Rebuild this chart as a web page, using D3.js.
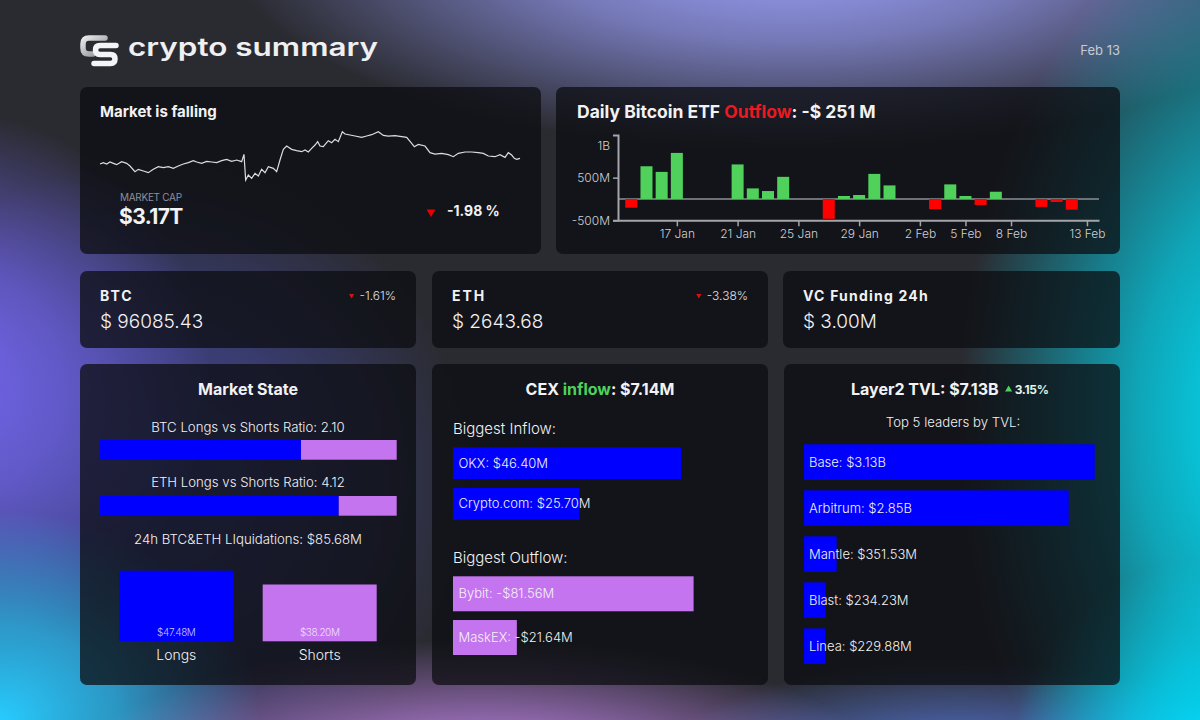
<!DOCTYPE html>
<html><head><meta charset="utf-8">
<script src="https://cdn.jsdelivr.net/npm/d3@7"></script>
<style>
html,body{margin:0;padding:0;background:#2a2b31;}
svg{display:block;font-family:Inter,"Noto Sans",sans-serif;}
</style></head><body>
<svg id="c" width="1200" height="720"></svg>
<script>
// ---------------- DATA ----------------
const headerTitle = "crypto summary";
const dateLabel = "Feb 13";

// market cap sparkline (time index, relative cap level)
const sparkT = [15,25,35,45,55,65,80,95,105,120,130,145,160,175,190,205,220,235,250,265,280,295,305,320,335,350,365,380,395,410,425,440,447,452,460,470,480,490,500,510,520,535,545,555,565,575,590,605,620,630,640,650,660,668,675,685,695,700,710,720,730,742,750,765,780,800,815,830,850,865,880,900,920,935,950,958,970,990,1005,1020,1040,1060,1075,1090,1110,1130,1150,1165,1180,1200,1215,1230,1240,1250,1258,1265,1275];
const sparkV = [68,72,68,74,70,66,75,70,62,45,52,47,42,52,60,57,60,55,62,68,72,78,74,70,76,74,72,78,82,76,80,75,97,20,35,25,40,32,52,42,60,55,45,80,112,122,112,108,105,110,104,115,125,135,122,120,132,138,132,142,135,165,158,155,152,148,152,156,165,154,152,153,150,148,130,120,127,122,102,98,100,96,90,100,104,104,102,100,92,90,96,88,102,95,85,82,85];
const marketCapLabel = "MARKET CAP";
const marketCap = "$3.17T";
const marketChange = "-1.98 %";

// Daily Bitcoin ETF flows (millions USD)
const etfDates = ["2025-01-14","2025-01-15","2025-01-16","2025-01-17","2025-01-21","2025-01-22","2025-01-23","2025-01-24","2025-01-27","2025-01-28","2025-01-29","2025-01-30","2025-01-31","2025-02-03","2025-02-04","2025-02-05","2025-02-06","2025-02-07","2025-02-10","2025-02-11","2025-02-12"];
const etfFlows = [-205,767,635,1080,810,248,186,519,-465,70,93,588,318,-240,342,70,-140,170,-186,-70,-251];
const etfTickDates = ["2025-01-17","2025-01-21","2025-01-25","2025-01-29","2025-02-02","2025-02-05","2025-02-08","2025-02-13"];
const etfYTicks = [-500,500,1000];
const etfLatest = "-$ 251 M";

// tickers
const tickerNames = ["BTC","ETH","VC Funding 24h"];
const tickerValues = ["$ 96085.43","$ 2643.68","$ 3.00M"];
const tickerChanges = ["-1.61%","-3.38%",null];

// market state
const ratioLabels = ["BTC","ETH"];
const ratioValues = [2.10, 4.12];
const liqCategories = ["Longs","Shorts"];
const liqValues = [47.48, 38.20];

// CEX flows (millions USD)
const cexNet = "$7.14M";
const inflowNames = ["OKX","Crypto.com"];
const inflowValues = [46.40, 25.70];
const outflowNames = ["Bybit","MaskEX"];
const outflowValues = [81.56, 21.64];

// Layer2 TVL (billions USD)
const l2Total = "$7.13B";
const l2Change = "3.15%";
const l2Names = ["Base","Arbitrum","Mantle","Blast","Linea"];
const l2Values = [3.13, 2.85, 0.35153, 0.23423, 0.22988];

// ---------------- DRAW ----------------
const svg = d3.select("#c");
const defs = svg.append("defs");
const WHITE = "#f2f2f4", BLUE = "#0000ff", PURPLE = "#c574ef", GREEN = "#4fd15c", RED = "#ff0000";

// background
svg.append("rect").attr("width",1200).attr("height",720).attr("fill","#2a2b31");
const blobs = [
  {cx:150,cy:480,rx:320,ry:320,c:"#4a50b8",o:0.75},
  {cx:790,cy:-50,rx:560,ry:200,c:"#9ea3ff",o:1},
  {cx:1280,cy:420,rx:320,ry:520,c:"#00e6ff",o:1},
  {cx:-60,cy:380,rx:270,ry:270,c:"#7668f4",o:1},
  {cx:0,cy:720,rx:260,ry:210,c:"#28cbff",o:1},
  {cx:480,cy:800,rx:430,ry:160,c:"#d490ff",o:1},
  {cx:960,cy:795,rx:330,ry:135,c:"#5f86f6",o:0.95},
  {cx:1210,cy:760,rx:200,ry:200,c:"#00e0ff",o:1}
];
blobs.forEach((b,i)=>{
  const g = defs.append("radialGradient").attr("id","bg"+i);
  g.append("stop").attr("offset","0%").attr("stop-color",b.c).attr("stop-opacity",b.o);
  g.append("stop").attr("offset","45%").attr("stop-color",b.c).attr("stop-opacity",b.o*0.65);
  g.append("stop").attr("offset","100%").attr("stop-color",b.c).attr("stop-opacity",0);
  svg.append("ellipse").attr("cx",b.cx).attr("cy",b.cy).attr("rx",b.rx).attr("ry",b.ry).attr("fill",`url(#bg${i})`);
});

// panels
const panels = [[80,87,461,167],[556,87,564,167],[80,271,336,77],[432,271,336,77],[783,271,337,77],[80,364,336,321],[432,364,336,321],[784,364,336,321]];
svg.append("g").selectAll("rect").data(panels).join("rect")
  .attr("x",d=>d[0]).attr("y",d=>d[1]).attr("width",d=>d[2]).attr("height",d=>d[3])
  .attr("rx",7).attr("fill","rgba(12,13,18,0.75)");

// header logo
const logo = svg.append("g");
const lg = defs.append("linearGradient").attr("id","lgC").attr("x1","0").attr("y1","0").attr("x2","1").attr("y2","1");
lg.append("stop").attr("offset","0%").attr("stop-color","#e8e8ea");
lg.append("stop").attr("offset","100%").attr("stop-color","#8d8d92");
logo.append("path").attr("d","M105,38 H89 Q83,38 83,44 V48 Q83,54 89,54 H93")
  .attr("fill","none").attr("stroke","url(#lgC)").attr("stroke-width",5.5).attr("stroke-linecap","round");
logo.append("path").attr("d","M116,45.5 H100 Q95.5,45.5 95.5,50 Q95.5,54.5 100,54.5 H110.5 Q115,54.5 115,59 Q115,63.5 110.5,63.5 H94")
  .attr("fill","none").attr("stroke","#f4f4f6").attr("stroke-width",5.5).attr("stroke-linecap","round");
svg.append("text").attr("x",128).attr("y",56).attr("font-size",25).attr("font-weight",600)
  .attr("textLength",250).attr("lengthAdjust","spacingAndGlyphs").attr("fill","#f0f0f2").text(headerTitle);
svg.append("text").attr("x",1120).attr("y",55).attr("text-anchor","end").attr("font-size",13)
  .attr("fill","#c9cad2").text(dateLabel);

// ---- Panel A: market ----
svg.append("text").attr("x",100).attr("y",117).attr("font-size",15).attr("font-weight",700).attr("fill",WHITE).text("Market is falling");
const sx = d3.scaleLinear().domain(d3.extent(sparkT)).range([100,520]);
const sy = d3.scaleLinear().domain([20,165]).range([180,131.7]);
svg.append("path").datum(d3.range(sparkT.length))
  .attr("d", d3.line().x(i=>sx(sparkT[i])).y(i=>sy(sparkV[i])))
  .attr("fill","none").attr("stroke","#dcdce0").attr("stroke-width",1.2);
svg.append("text").attr("x",120).attr("y",201).attr("font-size",10).attr("letter-spacing",-0.3).attr("fill","#8e8f99").text(marketCapLabel);
svg.append("text").attr("x",119).attr("y",224).attr("font-size",21).attr("font-weight",700).attr("letter-spacing",-0.6).attr("fill",WHITE).text(marketCap);
svg.append("path").attr("d",d3.symbol(d3.symbolTriangle,34)()).attr("transform","translate(431,212) rotate(180)").attr("fill","#e60000");
svg.append("text").attr("x",447).attr("y",216).attr("font-size",14).attr("font-weight",700).attr("fill",WHITE).text(marketChange);

// ---- Panel B: ETF ----
const tB = svg.append("text").attr("x",577).attr("y",118).attr("font-size",17.5).attr("font-weight",700).attr("fill",WHITE);
tB.append("tspan").text("Daily Bitcoin ETF ");
tB.append("tspan").attr("fill","#ea1a22").text("Outflow");
tB.append("tspan").text(": " + etfLatest);

const parse = d3.timeParse("%Y-%m-%d");
const ex = d3.scaleTime().domain([new Date(2025,0,13,3), new Date(2025,1,13,19)]).range([618,1099]);
const ey = d3.scaleLinear().domain([-500,1500]).range([220.3,135]);
const etf = etfDates.map((d,i)=>({date:parse(d), v:etfFlows[i]}));
svg.append("line").attr("x1",618).attr("x2",1099).attr("y1",ey(0)).attr("y2",ey(0)).attr("stroke","#8d8f94").attr("stroke-width",1.5);
svg.append("g").selectAll("rect").data(etf).join("rect")
  .attr("x",d=>ex(d.date)-6).attr("width",12)
  .attr("y",d=>Math.min(ey(d.v),ey(0))).attr("height",d=>Math.abs(ey(d.v)-ey(0)))
  .attr("fill",d=>d.v>=0?GREEN:RED);
const fmtM = d => Math.abs(d)>=1000 ? (d/1000)+"B" : d+"M";
const yAx = svg.append("g").attr("transform","translate(618,0)")
  .call(d3.axisLeft(ey).tickValues(etfYTicks).tickFormat(fmtM).tickSize(5).tickSizeOuter(5).tickPadding(3));
const xAx = svg.append("g").attr("transform","translate(0,220.3)")
  .call(d3.axisBottom(ex).tickValues(etfTickDates.map(parse)).tickFormat(d3.timeFormat("%-d %b")).tickSize(6).tickSizeOuter(0).tickPadding(3));
[yAx,xAx].forEach(a=>{
  a.select(".domain").attr("stroke","#a3a5aa").attr("stroke-width",2);
  a.selectAll(".tick line").attr("stroke","#a3a5aa").attr("stroke-width",1.5);
  a.selectAll(".tick text").attr("fill","#d0d0d4").attr("font-size",12).attr("font-family","Inter,sans-serif").attr("font-weight",300);
});
yAx.selectAll(".tick").filter(d=>d===1000).each(function(){
  d3.select(this).select("line").remove();
  d3.select(this).select("text").attr("y",-11);
});

// ---- Row 2: tickers ----
const tickerX = [80,432,783], tickerR = [416,768,1120];
tickerNames.forEach((n,i)=>{
  svg.append("text").attr("x",tickerX[i]+20).attr("y",301).attr("font-size",14).attr("font-weight",700)
    .attr("letter-spacing", i<2?2:1.2).attr("fill",WHITE).text(n);
  svg.append("text").attr("x",tickerX[i]+20).attr("y",328).attr("font-size",19).attr("font-weight",300)
    .attr("fill",WHITE).text(tickerValues[i]);
  if(tickerChanges[i]){
    const t = svg.append("text").attr("x",tickerR[i]-20).attr("y",299.5).attr("text-anchor","end")
      .attr("font-size",12).attr("font-weight",300).attr("fill","#e0e0e4").text(tickerChanges[i]);
    const bb = t.node().getBBox();
    svg.append("path").attr("d",d3.symbol(d3.symbolTriangle,11)()).attr("transform",`translate(${bb.x-8},${295.5}) rotate(180)`).attr("fill","#e01010");
  }
});

// ---- Market State ----
svg.append("text").attr("x",248).attr("y",395).attr("text-anchor","middle").attr("font-size",16).attr("font-weight",700).attr("fill",WHITE).text("Market State");
const rx = d3.scaleLinear().domain([0,1]).range([100,396.7]);
const rb = d3.scaleBand().domain(ratioLabels).range([440,515.7]).paddingInner(0.648);
ratioLabels.forEach((l,i)=>{
  const f = ratioValues[i]/(1+ratioValues[i]);
  const yy = rb(l);
  svg.append("text").attr("x",248).attr("y",yy-8.5).attr("text-anchor","middle").attr("font-size",13.2).attr("font-weight",300).attr("fill",WHITE)
    .text(`${l} Longs vs Shorts Ratio: ${ratioValues[i].toFixed(2)}`);
  svg.append("rect").attr("x",rx(0)).attr("y",yy).attr("width",rx(f)-rx(0)).attr("height",rb.bandwidth()).attr("fill",BLUE);
  svg.append("rect").attr("x",rx(f)).attr("y",yy).attr("width",rx(1)-rx(f)).attr("height",rb.bandwidth()).attr("fill",PURPLE);
});
const liqTotal = d3.sum(liqValues);
svg.append("text").attr("x",248).attr("y",544).attr("text-anchor","middle").attr("font-size",13.2).attr("font-weight",300).attr("fill",WHITE)
  .text(`24h BTC&ETH LIquidations: $${liqTotal.toFixed(2)}M`);
const lx = d3.scaleBand().domain(liqCategories).range([119.3,376.7]).paddingInner(0.205);
const ly = d3.scaleLinear().domain([0,d3.max(liqValues)]).range([641.3,570.7]);
liqCategories.forEach((c,i)=>{
  svg.append("rect").attr("x",lx(c)).attr("y",ly(liqValues[i])).attr("width",lx.bandwidth()).attr("height",ly(0)-ly(liqValues[i]))
    .attr("fill",i===0?BLUE:PURPLE);
  svg.append("text").attr("x",lx(c)+lx.bandwidth()/2).attr("y",635.5).attr("text-anchor","middle").attr("font-size",10).attr("font-weight",300)
    .attr("letter-spacing",-0.4).attr("fill","rgba(255,255,255,0.78)").text(`$${liqValues[i].toFixed(2)}M`);
  svg.append("text").attr("x",lx(c)+lx.bandwidth()/2).attr("y",660).attr("text-anchor","middle").attr("font-size",14).attr("font-weight",300)
    .attr("fill",WHITE).text(c);
});

// ---- CEX ----
const tC = svg.append("text").attr("x",600).attr("y",395).attr("text-anchor","middle").attr("font-size",16).attr("font-weight",700).attr("fill",WHITE);
tC.append("tspan").text("CEX ");
tC.append("tspan").attr("fill",GREEN).text("inflow");
tC.append("tspan").text(": " + cexNet);
function flowGroup(title, titleY, names, values, yRange, pad, xMax, color, sign){
  svg.append("text").attr("x",453).attr("y",titleY).attr("font-size",15).attr("font-weight",300).attr("fill",WHITE).text(title);
  const fx = d3.scaleLinear().domain([0,xMax]).range([453,748]);
  const fy = d3.scaleBand().domain(names).range(yRange).paddingInner(pad);
  names.forEach((n,i)=>{
    svg.append("rect").attr("x",fx(0)).attr("y",fy(n)).attr("width",fx(values[i])-fx(0)).attr("height",fy.bandwidth()).attr("fill",color);
    svg.append("text").attr("x",458.5).attr("y",fy(n)+fy.bandwidth()/2+4.5).attr("font-size",13).attr("font-weight",300)
      .attr("fill",WHITE).text(`${n}: ${sign}$${values[i].toFixed(2)}M`);
  });
}
flowGroup("Biggest Inflow:",434,inflowNames,inflowValues,[447.3,519.7],0.221,60,BLUE,"");
flowGroup("Biggest Outflow:",563,outflowNames,outflowValues,[576.3,655],0.2,100,PURPLE,"-");

// ---- Layer2 ----
const tL = svg.append("text").attr("x",851).attr("y",395).attr("font-size",16).attr("font-weight",700).attr("fill",WHITE).text("Layer2 TVL: " + l2Total);
const tlb = tL.node().getBBox();
svg.append("path").attr("d",d3.symbol(d3.symbolTriangle,22)()).attr("transform",`translate(${tlb.x+tlb.width+10},${389.5})`).attr("fill",GREEN);
svg.append("text").attr("x",tlb.x+tlb.width+16).attr("y",394).attr("font-size",12).attr("font-weight",700).attr("letter-spacing",-0.3).attr("fill","#e4f4e6").text(l2Change);
svg.append("text").attr("x",953).attr("y",427.3).attr("text-anchor","middle").attr("font-size",13.2).attr("font-weight",300).attr("fill",WHITE).text("Top 5 leaders by TVL:");
const bx = d3.scaleLinear().domain([0,d3.max(l2Values)]).range([804,1094.7]);
const by = d3.scaleBand().domain(l2Names).range([444.3,664]).paddingInner(0.227);
const fmtB = v => v>=1 ? `$${v.toFixed(2)}B` : `$${(v*1000).toFixed(2)}M`;
l2Names.forEach((n,i)=>{
  svg.append("rect").attr("x",bx(0)).attr("y",by(n)).attr("width",bx(l2Values[i])-bx(0)).attr("height",by.bandwidth()).attr("fill",BLUE);
  svg.append("text").attr("x",809).attr("y",by(n)+by.bandwidth()/2+4.5).attr("font-size",13).attr("font-weight",300)
    .attr("fill",WHITE).text(`${n}: ${fmtB(l2Values[i])}`);
});
</script>
</body></html>
